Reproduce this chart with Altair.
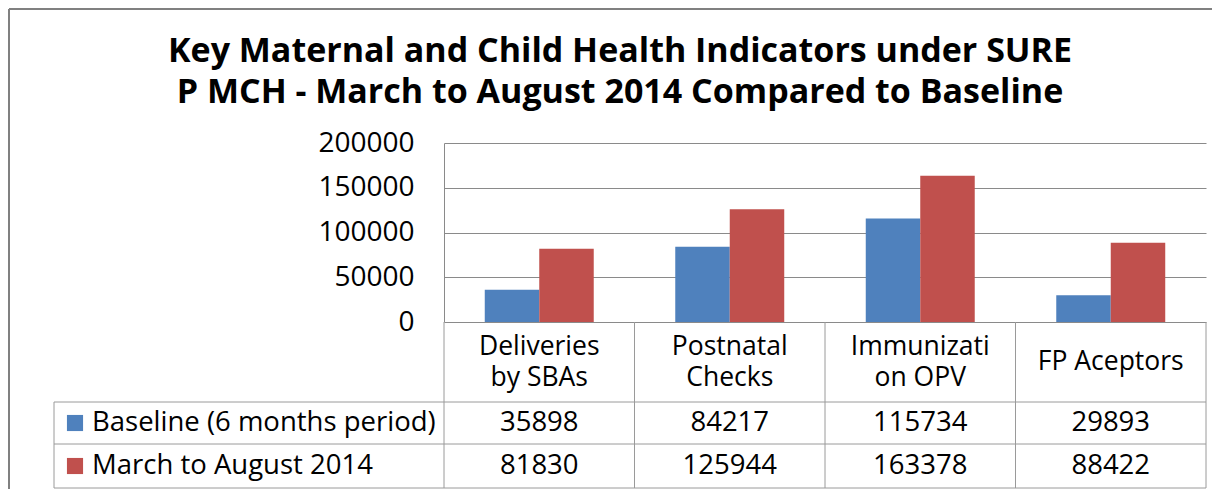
import altair as alt
import pandas as pd

# ---- data ----
categories = ["Deliveries\nby SBAs", "Postnatal\nChecks", "Immunizati\non OPV", "FP Aceptors"]
series = ["Baseline (6 months period)", "March to August 2014"]
baseline = [35898, 84217, 115734, 29893]
march_aug = [81830, 125944, 163378, 88422]
y_ticks = [0, 50000, 100000, 150000, 200000]
title_lines = [
    "Key Maternal and Child Health Indicators under SURE",
    "P MCH - March to August 2014 Compared to Baseline",
]
colors = ["#4F81BD", "#C0504D"]

# ---- tables built from the arrays ----
rows = []
for s, vals in zip(series, [baseline, march_aug]):
    for c, v in zip(categories, vals):
        rows.append({"category": c, "series": s, "value": v})
df = pd.DataFrame(rows)
cat_df = pd.DataFrame({"category": categories})
ser_df = pd.DataFrame({"series": series})
dummy = pd.DataFrame({"k": [0]})

FONT = "Open Sans"
W, H = 762, 179
GRID = "#8a8a8a"
TABLE = "#9a9a9a"
TXT = 27.5

x_enc = alt.X("category:N", sort=categories,
              scale=alt.Scale(domain=categories, paddingInner=0, paddingOuter=0),
              axis=None)
color_scale = alt.Scale(domain=series, range=colors)

bars = alt.Chart(df).mark_bar().encode(
    x=x_enc,
    xOffset=alt.XOffset("series:N", sort=series,
                        scale=alt.Scale(domain=series, paddingInner=0, paddingOuter=0.748)),
    y=alt.Y("value:Q", scale=alt.Scale(domain=[0, 200000], nice=False),
            axis=alt.Axis(values=y_ticks, title=None, ticks=False, grid=True,
                          gridColor=GRID, gridWidth=1, domain=True, domainColor=GRID,
                          labelFont=FONT, labelFontSize=28, labelColor="#000000",
                          labelPadding=30, format="d")),
    color=alt.Color("series:N", scale=color_scale, legend=None),
)

# two-line labels are lifted by half a line so that the block is centred
cat_two = alt.Chart(cat_df).transform_filter(
    "indexof(datum.category, '\\n') >= 0"
).mark_text(
    font=FONT, fontSize=26.5, lineBreak="\n", lineHeight=31, baseline="middle", color="#000000"
).encode(x=x_enc, y=alt.value(204), text="category:N")
cat_one = alt.Chart(cat_df).transform_filter(
    "indexof(datum.category, '\\n') < 0"
).mark_text(
    font=FONT, fontSize=26.5, baseline="middle", color="#000000"
).encode(x=x_enc, y=alt.value(219), text="category:N")

row_y = [280, 323]
value_layers = []
legend_layers = []
for s, yy in zip(series, row_y):
    value_layers.append(
        alt.Chart(df).transform_filter(alt.datum.series == s).mark_text(
            font=FONT, fontSize=TXT, baseline="middle", color="#000000"
        ).encode(x=x_enc, y=alt.value(yy), text=alt.Text("value:Q", format="d"))
    )
    legend_layers.append(
        alt.Chart(ser_df).transform_filter(alt.datum.series == s).mark_square(
            size=260, opacity=1
        ).encode(x=alt.value(-369), y=alt.value(yy),
                 color=alt.Color("series:N", scale=color_scale, legend=None))
    )
    legend_layers.append(
        alt.Chart(ser_df).transform_filter(alt.datum.series == s).mark_text(
            font=FONT, fontSize=TXT, align="left", baseline="middle", color="#000000"
        ).encode(x=alt.value(-352), y=alt.value(yy), text="series:N")
    )

title_layers = []
for t, yy in zip(title_lines, [-81, -40]):
    title_layers.append(
        alt.Chart(pd.DataFrame({"t": [t]})).mark_text(
            font=FONT, fontSize=34, fontWeight="bold", align="center",
            baseline="alphabetic", color="#000000"
        ).encode(x=alt.value(176), y=alt.value(yy), text="t:N")
    )


def rule(x1, x2, y1, y2, color=TABLE, width=1):
    return alt.Chart(dummy).mark_rule(color=color, strokeWidth=width).encode(
        x=alt.value(x1), x2=alt.value(x2), y=alt.value(y1), y2=alt.value(y2)
    )


step = W / len(categories)
rules = [
    rule(-390, W, 259, 259),
    rule(-390, W, 301, 301),
    rule(-390, W, 345, 345),
    rule(-390, -390, 259, 345),
]
for i in range(len(categories) + 1):
    rules.append(rule(i * step, i * step, H, 345))
# outer frame
rules.append(rule(-435, 768, -134, -134, color="#808080", width=2))
rules.append(rule(-435, -435, -134, 350, color="#808080", width=2))

chart = alt.layer(
    bars, cat_two, cat_one, *value_layers, *legend_layers, *title_layers, *rules
).properties(
    width=W, height=H,
    autosize=alt.AutoSizeParams(type="none"),
    padding={"left": 436, "top": 135, "right": 6, "bottom": 167},
).configure_view(stroke=None)

chart.save("out.html", embed_options={"renderer": "svg", "actions": False})
